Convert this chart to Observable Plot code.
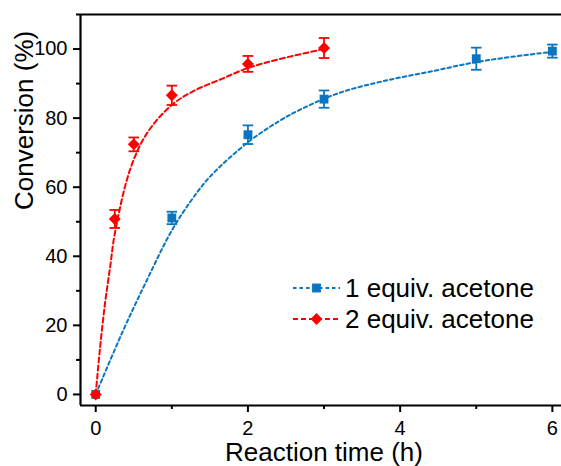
<!DOCTYPE html>
<html><head><meta charset="utf-8">
<script src="https://cdn.jsdelivr.net/npm/d3@7"></script>
<script src="https://cdn.jsdelivr.net/npm/@observablehq/plot@0.6"></script>
<style>
body{margin:0;background:#fff;font-family:"Liberation Sans",Arial,sans-serif;}
#wrap{position:relative;width:561px;height:466px;}
#legend{position:absolute;left:0;top:0;pointer-events:none;}
</style></head><body><div id="wrap"></div>
<script>
// measured data
const timeBlue = [0, 1, 2, 3, 5, 6];
const convBlue = [0, 51.1, 75.2, 85.5, 97.2, 99.4];
const errBlue  = [0, 1.8, 2.7, 2.5, 3.2, 1.9];
const timeRed  = [0, 0.25, 0.5, 1, 2, 3];
const convRed  = [0, 50.8, 72.4, 86.6, 95.7, 100.3];
const errRed   = [0, 2.6, 2.0, 2.8, 2.3, 2.9];
// fitted curves
const fitBlueT = [0, 0.35, 0.67, 1, 1.25, 1.5, 2, 2.4, 2.7, 3.2, 3.8, 4.45, 4.9, 5.35, 6];
const fitBlueY = [0, 18, 33, 47.5, 56, 63, 73, 79, 82.6, 87.3, 90.8, 93.7, 95.8, 97.4, 99.2];
const fitRedT  = [0, 0.05, 0.12, 0.19, 0.25, 0.45, 0.67, 1, 1.3, 1.65, 2, 2.4, 3];
const fitRedY  = [0, 12, 26, 37, 46.5, 65, 75.5, 83.8, 88, 91.3, 94.5, 97, 100];
const seriesNames = ["1 equiv. acetone", "2 equiv. acetone"];
const seriesColors = ["#0b76bf", "#ff0000"];
const xTicks = [0, 2, 4, 6];
const xMinor = [1, 3, 5];
const yTicks = [0, 20, 40, 60, 80, 100];
const yMinor = [10, 30, 50, 70, 90, 110];
const xTitle = "Reaction time (h)";
const yTitle = "Conversion (%)";

const FONT = '"Liberation Sans", Arial, sans-serif';
const blue = seriesColors[0], red = seriesColors[1];
const toRows = (t, v, e) => t.map((x, i) => ({t: x, v: v[i], e: e[i]}));
const blueRows = toRows(timeBlue, convBlue, errBlue);
const redRows = toRows(timeRed, convRed, errRed);
const blueFit = fitBlueT.map((t, i) => ({t, v: fitBlueY[i]}));
const redFit = fitRedT.map((t, i) => ({t, v: fitRedY[i]}));
const capSymbol = {draw(ctx, size) { const r = Math.sqrt(size / Math.PI); ctx.moveTo(-r, 0); ctx.lineTo(r, 0); }};

function errMarks(rows, color) {
  const r = rows.filter(d => d.e > 0);
  return [
    Plot.ruleX(r, {x: "t", y1: d => d.v - d.e, y2: d => d.v + d.e, stroke: color, strokeWidth: 1.8}),
    Plot.dot(r, {x: "t", y: d => d.v + d.e, symbol: capSymbol, r: 5.3, stroke: color, strokeWidth: 1.8, fill: "none"}),
    Plot.dot(r, {x: "t", y: d => d.v - d.e, symbol: capSymbol, r: 5.3, stroke: color, strokeWidth: 1.8, fill: "none"})
  ];
}

const chart = Plot.plot({
  width: 561, height: 466,
  marginLeft: 80, marginRight: 0, marginTop: 14, marginBottom: 61,
  x: {domain: [-0.2, 6.12]},
  y: {domain: [-3.2, 110]},
  style: {fontFamily: FONT, fontSize: "20px", color: "#000", background: "#fff"},
  marks: [
    Plot.axisX(xTicks, {tickSize: 7, tickPadding: 8, strokeWidth: 2, fontSize: 20, label: null}),
    Plot.axisX(xMinor, {tickSize: 4, tickFormat: () => "", strokeWidth: 2, label: null}),
    Plot.axisY(yTicks, {tickSize: 7, tickPadding: 6, strokeWidth: 2, fontSize: 20, label: null}),
    Plot.axisY(yMinor, {tickSize: 4, tickFormat: () => "", strokeWidth: 2, label: null}),
    Plot.ruleX([-0.2], {strokeWidth: 2.2, stroke: "#000"}),
    Plot.ruleY([-3.2, 110], {strokeWidth: 2.2, stroke: "#000"}),
    Plot.line(blueFit, {x: "t", y: "v", curve: "catmull-rom", stroke: blue, strokeWidth: 2, strokeDasharray: "3.5,3"}),
    Plot.line(redFit, {x: "t", y: "v", curve: "catmull-rom", stroke: red, strokeWidth: 2, strokeDasharray: "5,3"}),
    ...errMarks(blueRows, blue),
    Plot.dot(blueRows, {x: "t", y: "v", symbol: "square", r: 5, fill: blue}),
    ...errMarks(redRows, red),
    Plot.dot(redRows, {x: "t", y: "v", symbol: "diamond2", r: 5.4, fill: red}),
    Plot.text([xTitle], {frameAnchor: "bottom", text: d => d, dy: 47, dx: 3, lineAnchor: "middle", fontSize: 26, fill: "#000"}),
    Plot.text([yTitle], {frameAnchor: "left", text: d => d, rotate: -90, dx: -56, lineAnchor: "middle", fontSize: 26, fill: "#000"})
  ]
});
const wrap = document.getElementById("wrap");
wrap.appendChild(chart);

// legend overlay
const leg = d3.select(wrap).append("svg").attr("id", "legend").attr("width", 561).attr("height", 466);
const legX0 = 293, legX1 = 340, legY0 = 288, legDY = 31;
seriesNames.forEach((name, i) => {
  const y = legY0 + i * legDY;
  const g = leg.append("g");
  g.append("line").attr("x1", legX0).attr("x2", legX1).attr("y1", y).attr("y2", y)
    .attr("stroke", seriesColors[i]).attr("stroke-width", 2).attr("stroke-dasharray", i === 0 ? "3.5,3" : "5,3");
  const sym = i === 0 ? d3.symbolSquare : d3.symbolDiamond2;
  const r = i === 0 ? 5 : 5.4;
  g.append("path").attr("d", d3.symbol(sym, Math.PI * r * r)()).attr("transform", `translate(${(legX0 + legX1) / 2},${y})`)
    .attr("fill", seriesColors[i]);
  g.append("text").attr("x", 345).attr("y", y).attr("dy", "0.35em").attr("font-size", 26)
    .attr("font-family", FONT).attr("fill", "#000").text(name);
});
</script></body></html>
